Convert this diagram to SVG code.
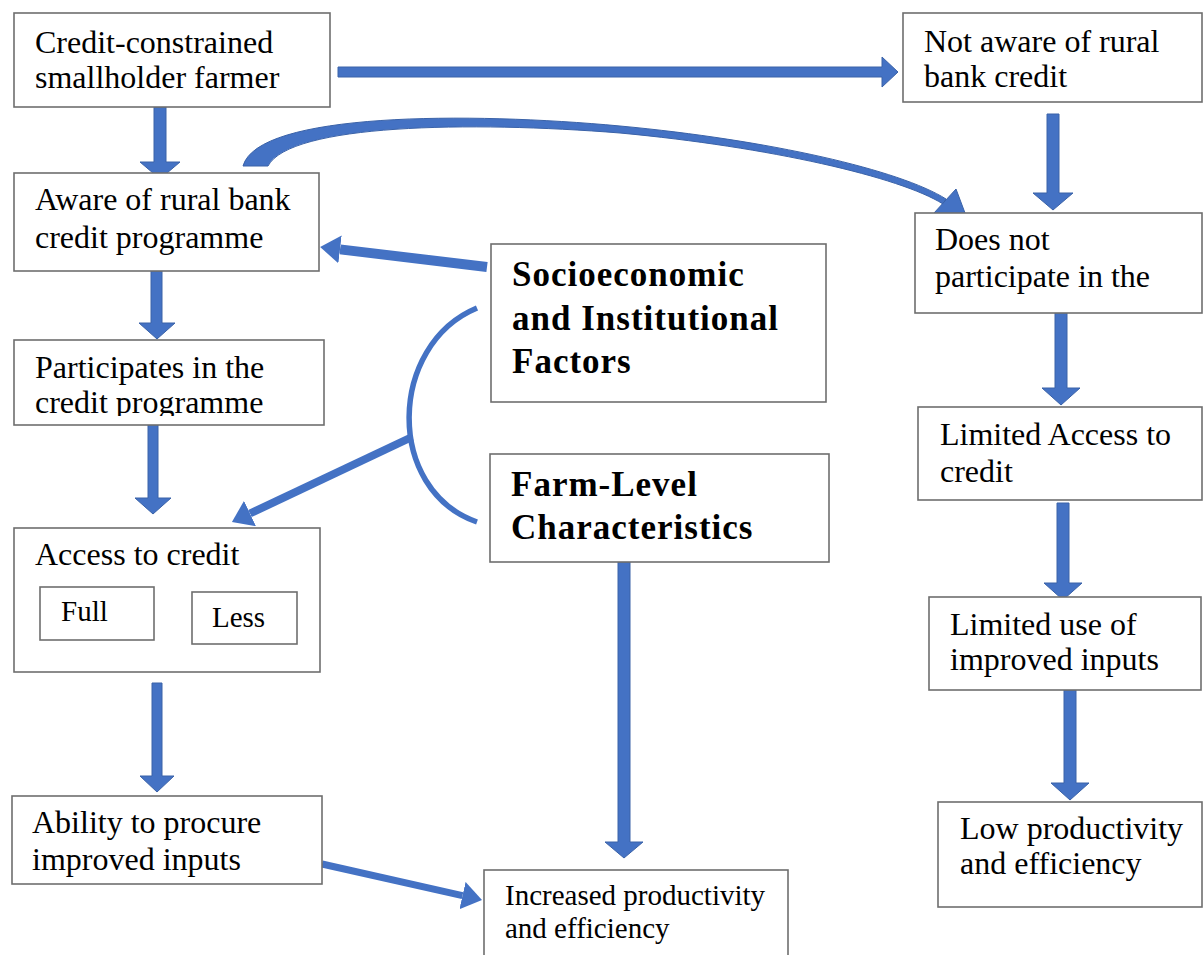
<svg xmlns="http://www.w3.org/2000/svg" width="1204" height="955" viewBox="0 0 1204 955">
<style>
.box{fill:#fff;stroke:#6e6e6e;stroke-width:1.6}
.t{font-family:"Liberation Serif","Times New Roman",serif;font-size:32px;fill:#000}
.ts{font-family:"Liberation Serif","Times New Roman",serif;font-size:29px;fill:#000}
.tb{font-family:"Liberation Serif","Times New Roman",serif;font-size:35px;font-weight:bold;letter-spacing:1px;fill:#000}
.blk{fill:#4472C4;stroke:#3A62A8;stroke-width:1}
.ln{fill:none;stroke:#4472C4;stroke-linecap:butt}
</style>
<defs>
<marker id="ah" markerUnits="userSpaceOnUse" viewBox="0 0 20 28" refX="0" refY="14" markerWidth="20" markerHeight="28" orient="auto">
<path d="M0,0 L20,14 L0,28 Z" fill="#4472C4"/>
</marker>
<clipPath id="clipPart"><rect x="14" y="340" width="310" height="76"/></clipPath>
</defs>
<rect width="1204" height="955" fill="#fff"/>

<g id="connectors">
<polygon class="blk" points="338,67 882,67 882,57 898,72 882,87 882,77 338,77"/>
<polygon class="blk" points="154,107 166,107 166,162 180,162 160,179 140,162 154,162"/>
<polygon class="blk" points="1047,114 1059,114 1059,193 1073,193 1053,210 1033,193 1047,193"/>
<polygon class="blk" points="151,271 162,271 162,323 175,323 157,339 139,323 151,323"/>
<polygon class="blk" points="1055,310 1067,310 1067,388 1080,388 1061,405 1042,388 1055,388"/>
<polygon class="blk" points="148,424 158,424 158,498 171,498 153,514 135,498 148,498"/>
<polygon class="blk" points="1057,503 1069,503 1069,583 1082,583 1063,600 1044,583 1057,583"/>
<polygon class="blk" points="152,683 162,683 162,776 174,776 157,792 140,776 152,776"/>
<polygon class="blk" points="1064,690 1076,690 1076,783 1089,783 1070,800 1051,783 1064,783"/>
<polygon class="blk" points="618,562 630,562 630,842 643,842 624,858 605,842 618,842"/>
<path class="blk" d="M243,166 C258,112 470,112 620,126 C770,140 900,170 946,199 L943,204 C900,177 770,147 620,133 C470,121 290,124 268,166 Z"/>
<polygon class="blk" points="934,213 956,189 968,221"/>
<line class="ln" x1="487" y1="267" x2="340" y2="249.4" stroke-width="10" marker-end="url(#ah)"/>
<line class="ln" x1="412" y1="437" x2="250" y2="513.5" stroke-width="8" marker-end="url(#ah)"/>
<line class="ln" x1="322" y1="864" x2="462.5" y2="895.6" stroke-width="7" marker-end="url(#ah)"/>
<path class="ln" d="M477,308 C388,345 385,490 477,522" stroke-width="5.5"/>
</g>

<g id="n-credit-constrained">
<rect class="box" x="14" y="13" width="316" height="94"/>
<text class="t" x="35" y="53">Credit-constrained</text>
<text class="t" x="35" y="88">smallholder farmer</text>
</g>

<g id="n-not-aware">
<rect class="box" x="903" y="13" width="299" height="89"/>
<text class="t" x="924" y="52">Not aware of rural</text>
<text class="t" x="924" y="87">bank credit</text>
</g>

<g id="n-aware">
<rect class="box" x="14" y="173" width="305" height="98"/>
<text class="t" x="35" y="210">Aware of rural bank</text>
<text class="t" x="35" y="248">credit programme</text>
</g>

<g id="n-does-not-participate">
<rect class="box" x="915" y="213" width="287" height="100"/>
<text class="t" x="935" y="250">Does not</text>
<text class="t" x="935" y="287">participate in the</text>
</g>

<g id="n-socioeconomic">
<rect class="box" x="491" y="244" width="335" height="158"/>
<text class="tb" x="512" y="286">Socioeconomic</text>
<text class="tb" x="512" y="330">and Institutional</text>
<text class="tb" x="512" y="373">Factors</text>
</g>

<g id="n-participates">
<rect class="box" x="14" y="340" width="310" height="85"/>
<text class="t" x="35" y="378">Participates in the</text>
<text class="t" x="35" y="413" clip-path="url(#clipPart)">credit programme</text>
</g>

<g id="n-farm-level">
<rect class="box" x="490" y="454" width="339" height="108"/>
<text class="tb" x="511" y="496">Farm-Level</text>
<text class="tb" x="511" y="539">Characteristics</text>
</g>

<g id="n-limited-access">
<rect class="box" x="918" y="407" width="284" height="93"/>
<text class="t" x="940" y="445">Limited Access to</text>
<text class="t" x="940" y="482">credit</text>
</g>

<g id="n-access">
<rect class="box" x="14" y="528" width="306" height="144"/>
<text class="t" x="35" y="565">Access to credit</text>
<g id="n-full">
<rect class="box" x="40" y="587" width="114" height="53"/>
<text class="ts" x="61" y="621">Full</text>
</g>
<g id="n-less">
<rect class="box" x="192" y="592" width="105" height="52"/>
<text class="ts" x="212" y="627">Less</text>
</g>
</g>

<g id="n-limited-use">
<rect class="box" x="929" y="597" width="272" height="93"/>
<text class="t" x="950" y="635">Limited use of</text>
<text class="t" x="950" y="670">improved inputs</text>
</g>

<g id="n-ability">
<rect class="box" x="12" y="796" width="310" height="88"/>
<text class="t" x="32" y="833">Ability to procure</text>
<text class="t" x="32" y="870">improved inputs</text>
</g>

<g id="n-increased">
<rect class="box" x="484" y="870" width="304" height="95"/>
<text class="ts" x="505" y="905">Increased productivity</text>
<text class="ts" x="505" y="938">and efficiency</text>
</g>

<g id="n-low">
<rect class="box" x="938" y="802" width="264" height="105"/>
<text class="t" x="960" y="839">Low productivity</text>
<text class="t" x="960" y="874">and efficiency</text>
</g>
</svg>
